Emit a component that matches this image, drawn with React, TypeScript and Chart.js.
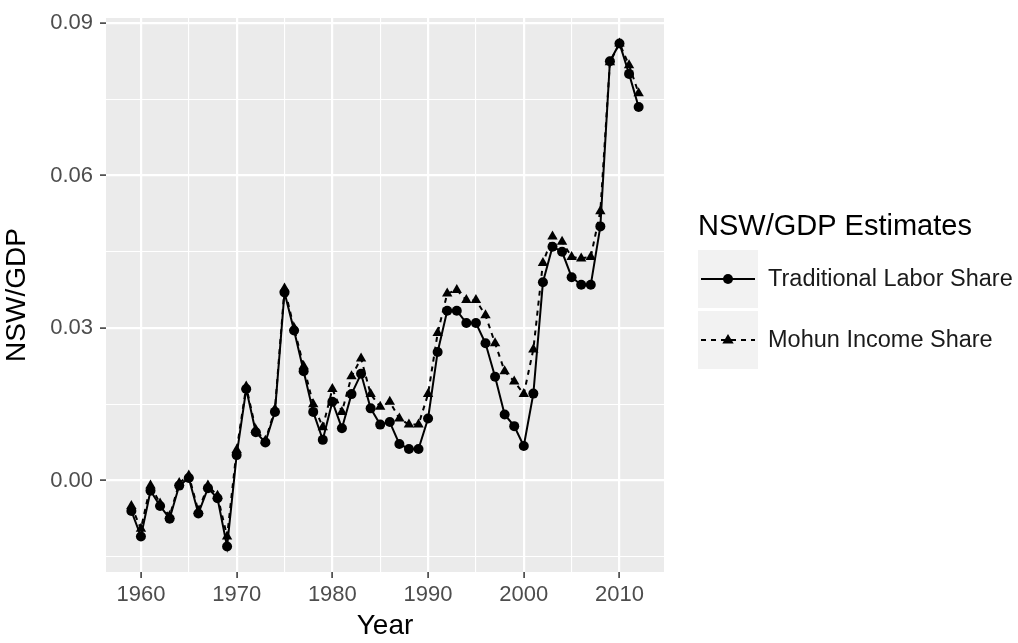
import React, { useEffect, useRef } from "react";
import { Chart, registerables } from "chart.js";

Chart.register(...registerables);

const years: number[] = [
  1959, 1960, 1961, 1962, 1963, 1964, 1965, 1966, 1967, 1968, 1969,
  1970, 1971, 1972, 1973, 1974, 1975, 1976, 1977, 1978, 1979,
  1980, 1981, 1982, 1983, 1984, 1985, 1986, 1987, 1988, 1989,
  1990, 1991, 1992, 1993, 1994, 1995, 1996, 1997, 1998, 1999,
  2000, 2001, 2002, 2003, 2004, 2005, 2006, 2007, 2008, 2009,
  2010, 2011, 2012,
];

const traditionalLaborShare: number[] = [
  -0.006, -0.011, -0.002, -0.005, -0.0075, -0.001, 0.0005, -0.0065, -0.0015, -0.0035, -0.013,
  0.005, 0.018, 0.0095, 0.0075, 0.0135, 0.037, 0.0295, 0.0215, 0.0135, 0.008,
  0.0155, 0.0103, 0.017, 0.021, 0.0142, 0.011, 0.0115, 0.0072, 0.0062, 0.0062,
  0.0122, 0.0253, 0.0334, 0.0334, 0.031, 0.031, 0.027, 0.0204, 0.013, 0.0107,
  0.0068, 0.0171, 0.039, 0.046, 0.045, 0.04, 0.0385, 0.0385, 0.05, 0.0825,
  0.086, 0.08, 0.0735,
];

const mohunIncomeShare: number[] = [
  -0.005, -0.0095, -0.001, -0.0045, -0.007, -0.0005, 0.001, -0.006, -0.001, -0.003, -0.011,
  0.006, 0.0185, 0.01, 0.0078, 0.014, 0.0378, 0.03, 0.0225, 0.015, 0.0105,
  0.018, 0.0135, 0.0205, 0.024, 0.017, 0.0145, 0.0155, 0.0122, 0.011, 0.011,
  0.017, 0.029, 0.0368, 0.0375, 0.0355, 0.0355, 0.0325, 0.027, 0.0215, 0.0195,
  0.017, 0.0258, 0.0428, 0.048, 0.047, 0.044, 0.0437, 0.044, 0.053, 0.0823,
  0.086, 0.0817, 0.0762,
];

const xTicks: number[] = [1960, 1965, 1970, 1975, 1980, 1985, 1990, 1995, 2000, 2005, 2010];
const yTicks: number[] = [-0.015, 0, 0.015, 0.03, 0.045, 0.06, 0.075, 0.09];

const seriesNames: string[] = ["Traditional Labor Share", "Mohun Income Share"];
const legendTitle = "NSW/GDP Estimates";
const xTitle = "Year";
const yTitle = "NSW/GDP";

const FONT = "'Liberation Sans', Arial, Helvetica, sans-serif";

const isMajorX = (v: number) => v % 10 === 0;
const isMajorY = (v: number) => Math.round(v * 1000) % 30 === 0;

const panelPlugin = {
  id: "panelBg",
  beforeDraw(chart: any) {
    const { ctx, chartArea } = chart;
    ctx.save();
    ctx.fillStyle = "#EBEBEB";
    ctx.fillRect(chartArea.left, chartArea.top, chartArea.right - chartArea.left, chartArea.bottom - chartArea.top);
    ctx.restore();
  },
};

const legendPlugin = {
  id: "ggLegend",
  afterDraw(chart: any) {
    const { ctx } = chart;
    const x0 = 698;
    ctx.save();
    ctx.fillStyle = "#000000";
    ctx.textBaseline = "middle";
    ctx.textAlign = "left";
    ctx.font = `29px ${FONT}`;
    ctx.fillText(legendTitle, x0, 227);

    const rows = [
      { top: 250, h: 58, dash: [] as number[], style: "circle", r: 5 },
      { top: 311, h: 58, dash: [5, 5], style: "triangle", r: 6 },
    ];
    rows.forEach((row, i) => {
      ctx.fillStyle = "#F2F2F2";
      ctx.fillRect(x0, row.top, 60, row.h);
      const cy = row.top + row.h / 2;
      ctx.strokeStyle = "#000000";
      ctx.lineWidth = 2;
      ctx.setLineDash(row.dash);
      ctx.beginPath();
      ctx.moveTo(x0 + 3, cy);
      ctx.lineTo(x0 + 57, cy);
      ctx.stroke();
      ctx.setLineDash([]);
      ctx.fillStyle = "#000000";
      ctx.beginPath();
      if (row.style === "circle") {
        ctx.arc(x0 + 30, cy, row.r, 0, Math.PI * 2);
      } else {
        const r = row.r;
        ctx.moveTo(x0 + 30, cy - r);
        ctx.lineTo(x0 + 30 + r * 0.95, cy + r * 0.6);
        ctx.lineTo(x0 + 30 - r * 0.95, cy + r * 0.6);
        ctx.closePath();
      }
      ctx.fill();
      ctx.fillStyle = "#1A1A1A";
      ctx.font = `23.5px ${FONT}`;
      ctx.fillText(seriesNames[i], 768, cy + 1);
    });
    ctx.restore();
  },
};

export default function App() {
  const canvasRef = useRef<HTMLCanvasElement | null>(null);

  useEffect(() => {
    document.body.style.margin = "0";
    const canvas = canvasRef.current;
    if (!canvas) return;

    const chart = new Chart(canvas, {
      type: "line",
      data: {
        datasets: [
          {
            label: seriesNames[0],
            data: years.map((y, i) => ({ x: y, y: traditionalLaborShare[i] })),
            borderColor: "#000000",
            backgroundColor: "#000000",
            borderWidth: 2,
            pointStyle: "circle",
            pointRadius: 5,
            pointBorderWidth: 0,
            tension: 0,
          },
          {
            label: seriesNames[1],
            data: years.map((y, i) => ({ x: y, y: mohunIncomeShare[i] })),
            borderColor: "#000000",
            backgroundColor: "#000000",
            borderWidth: 2,
            borderDash: [5, 5],
            pointStyle: "triangle",
            pointRadius: 6,
            pointBorderWidth: 0,
            tension: 0,
          },
        ],
      },
      options: {
        animation: false,
        responsive: false,
        devicePixelRatio: 1,
        layout: { padding: { top: 12, right: 354, bottom: 0, left: 0 } },
        plugins: {
          legend: { display: false },
          tooltip: { enabled: false },
        },
        scales: {
          x: {
            type: "linear",
            min: 1956.35,
            max: 2014.65,
            afterBuildTicks: (scale: any) => {
              scale.ticks = xTicks.map((v) => ({ value: v }));
            },
            afterFit: (scale: any) => {
              scale.height = 71;
            },
            border: { display: false },
            grid: {
              color: "#FFFFFF",
              lineWidth: (c: any) => (isMajorX(c.tick.value) ? 2.2 : 1.1),
              tickColor: (c: any) => (isMajorX(c.tick.value) ? "#333333" : "rgba(0,0,0,0)"),
              tickLength: 6,
              tickWidth: 1.5,
            },
            ticks: {
              autoSkip: false,
              maxRotation: 0,
              padding: 6,
              color: "#4D4D4D",
              font: { family: FONT, size: 22, lineHeight: 1 },
              callback: (v: any) => (isMajorX(Number(v)) ? String(v) : ""),
            },
            title: {
              display: true,
              text: xTitle,
              color: "#000000",
              font: { family: FONT, size: 28 },
              padding: 0,
            },
          },
          y: {
            type: "linear",
            min: -0.018,
            max: 0.091,
            afterBuildTicks: (scale: any) => {
              scale.ticks = yTicks.map((v) => ({ value: v }));
            },
            afterFit: (scale: any) => {
              scale.width = 106;
            },
            border: { display: false },
            grid: {
              color: "#FFFFFF",
              lineWidth: (c: any) => (isMajorY(c.tick.value) ? 2.2 : 1.1),
              tickColor: (c: any) => (isMajorY(c.tick.value) ? "#333333" : "rgba(0,0,0,0)"),
              tickLength: 6,
              tickWidth: 1.5,
            },
            ticks: {
              autoSkip: false,
              padding: 7,
              color: "#4D4D4D",
              font: { family: FONT, size: 22, lineHeight: 1 },
              callback: (v: any) => (isMajorY(Number(v)) ? Number(v).toFixed(2) : ""),
            },
            title: {
              display: true,
              text: yTitle,
              color: "#000000",
              font: { family: FONT, size: 28 },
              padding: 0,
            },
          },
        },
      },
      plugins: [panelPlugin, legendPlugin],
    } as any);

    return () => chart.destroy();
  }, []);

  return (
    <div style={{ width: 1018, height: 643 }}>
      <canvas ref={canvasRef} width={1018} height={643} style={{ display: "block" }} />
    </div>
  );
}
